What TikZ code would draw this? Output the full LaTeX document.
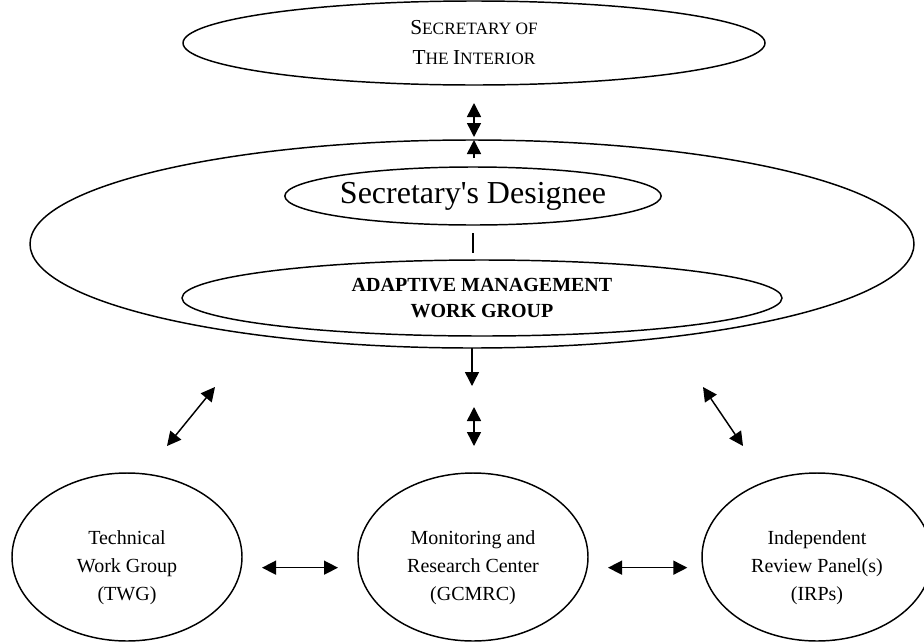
\documentclass[tikz,border=0pt]{standalone}
\usepackage{fontspec}
\setmainfont{Liberation Serif}
\usetikzlibrary{arrows.meta, shapes.geometric}

% small capitals faked with two sizes
\newcommand{\initcap}[1]{{\fontsize{16}{22.5}\selectfont #1}}

\begin{document}
\begin{tikzpicture}[
  x=0.75pt, y=-0.75pt,
  unit/.style = {ellipse, draw, line width=1.1pt, inner sep=0pt, outer sep=0pt},
  team/.style = {unit, minimum width=230*0.75pt, minimum height=168*0.75pt},
  teamtext/.style = {align=center, font=\fontsize{15}{21}\selectfont},
  dbl/.style = {{Triangle[length=10.5pt, width=10.5pt]}-{Triangle[length=10.5pt, width=10.5pt]}, line width=1.1pt},
  one/.style = {-{Triangle[length=10.5pt, width=10.5pt]}, line width=1.1pt}
]
  \useasboundingbox (0,0) rectangle (924,643);

  % Secretary at the top
  \node[unit, minimum width=582*0.75pt, minimum height=84*0.75pt, align=center,
        font=\fontsize{13}{22.5}\selectfont] (soi) at (474,43)
    {\initcap{S}ECRETARY OF\\\initcap{T}HE \initcap{I}NTERIOR};

  % the AMWG forum with the designee inside
  \node[unit, minimum width=884*0.75pt, minimum height=208*0.75pt] (forum) at (472,244) {};
  \node[unit, minimum width=348*0.75pt, minimum height=58*0.75pt,
        font=\fontsize{24}{28}\selectfont] (designee) at (473,196)
    {Secretary\textquotesingle s Designee};
  \node[unit, minimum width=600*0.75pt, minimum height=76*0.75pt, align=center,
        font=\fontsize{15}{20}\bfseries] (amwg) at (482,298)
    {ADAPTIVE MANAGEMENT\\WORK GROUP};

  % the three bodies below
  \node[team] (twg)   at (127,557) {};
  \node[team] (gcmrc) at (473,557) {};
  \node[team] (irp)   at (817,557) {};
  \node[teamtext] (twgtext)   at ([yshift=-8pt]twg.center)   {Technical\\Work Group\\(TWG)};
  \node[teamtext] (gcmrctext) at ([yshift=-8pt]gcmrc.center) {Monitoring and\\Research Center\\(GCMRC)};
  \node[teamtext] (irptext)   at ([yshift=-8pt]irp.center)   {Independent\\Review Panel(s)\\(IRPs)};

  % free arrow ends
  \coordinate (soiend)   at (474,103);
  \coordinate (forumtop) at (474,137);
  \coordinate (uptail)   at (474,158);
  \coordinate (uptip)    at (474,140);
  \coordinate (downtip)  at (472,386);
  \coordinate (midtop)   at (474,407);
  \coordinate (midbot)   at (474,446);
  \coordinate (ltop)     at (215,387);
  \coordinate (lbot)     at (167,446);
  \coordinate (rtop)     at (703,387);
  \coordinate (rbot)     at (743,446);

  \draw[dbl] (soiend) -- (forumtop);
  \draw[one] (uptail) -- (uptip);
  \draw[line width=1.1pt] ([yshift=-6pt]designee.south) -- ++(0,20);
  \draw[one] (forum.south) -- (downtip);
  \draw[dbl] (midtop) -- (midbot);
  \draw[dbl] (ltop) -- (lbot);
  \draw[dbl] (rtop) -- (rbot);

  \draw[dbl] ([yshift=-8pt, xshift=15pt]twg.east) -- ([yshift=-8pt, xshift=-15pt]gcmrc.west);
  \draw[dbl] ([yshift=-8pt, xshift=15pt]gcmrc.east) -- ([yshift=-8pt, xshift=-11pt]irp.west);
\end{tikzpicture}
\end{document}
